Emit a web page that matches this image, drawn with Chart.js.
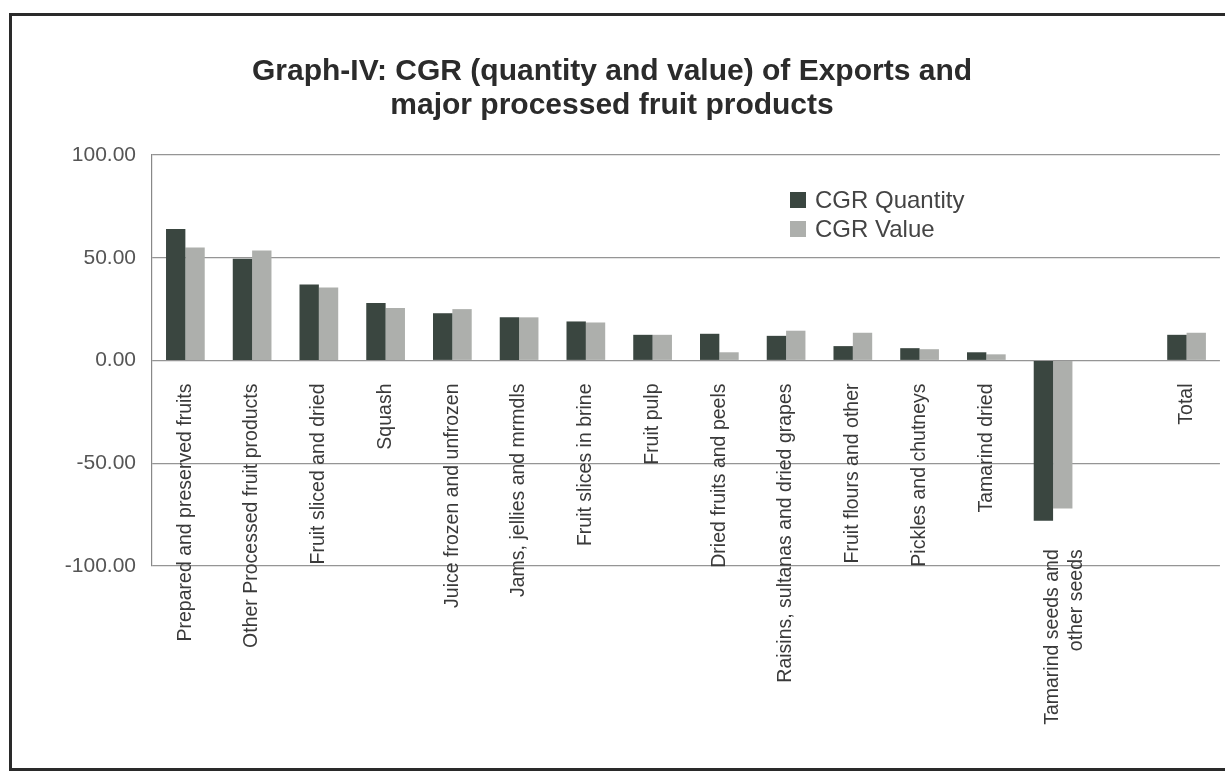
<!DOCTYPE html>
<html><head><meta charset="utf-8">
<script src="https://cdn.jsdelivr.net/npm/chart.js@4.4.0/dist/chart.umd.min.js"></script>
<style>
html,body{margin:0;padding:0;background:#fff;}
#wrap{position:relative;width:1225px;height:773px;overflow:hidden;}
#frame{position:absolute;left:9px;top:13px;width:1220px;height:752px;border-top:3px solid #2a2a2a;border-left:3px solid #2a2a2a;border-bottom:3px solid #2a2a2a;}
canvas{position:absolute;left:0;top:0;}
</style></head><body>
<div id="wrap"><div id="frame"></div><canvas id="c" width="1225" height="773"></canvas></div>
<script>
const titleLines = ['Graph-IV: CGR (quantity and value) of Exports and', 'major processed fruit products'];
const categories = [
  'Prepared and preserved fruits',
  'Other Processed fruit products',
  'Fruit sliced and dried',
  'Squash',
  'Juice frozen and unfrozen',
  'Jams, jellies and mrmdls',
  'Fruit slices in brine',
  'Fruit pulp',
  'Dried fruits and peels',
  'Raisins, sultanas and dried grapes',
  'Fruit flours and other',
  'Pickles and chutneys',
  'Tamarind dried',
  ['Tamarind seeds and', 'other seeds'],
  '',
  'Total'
];
const seriesNames = ['CGR Quantity', 'CGR Value'];
const cgrQuantity = [64, 49.5, 37, 28, 23, 21, 19, 12.5, 13, 12, 7, 6, 4, -78, null, 12.5];
const cgrValue    = [55, 53.5, 35.5, 25.5, 25, 21, 18.5, 12.5, 4, 14.5, 13.5, 5.5, 3, -72, null, 13.5];
const yMin = -100, yMax = 100, yStep = 50;
const lowLabelIndex = 13;      // category whose label sits below its negative bar
const lowLabelAt = -86;        // axis value where that label starts

function hasFont(name){
  const c = document.createElement('canvas').getContext('2d');
  const s = 'abcdefghijklmnopqrstuvwxyz WWW 0123';
  c.font = '20px monospace'; const a = c.measureText(s).width;
  c.font = '20px "' + name + '", monospace'; const b = c.measureText(s).width;
  return Math.abs(a - b) > 0.5;
}
const narrow = hasFont('Liberation Sans Narrow');
const condFam = narrow ? '"Liberation Sans Narrow", "Liberation Sans", Arial, sans-serif' : '"Liberation Sans", Arial, sans-serif';
const regFam = '"Liberation Sans", Arial, sans-serif';
const titleFont = narrow ? {family: condFam, size: 30, weight: 'bold', lineHeight: 1.15} : {family: regFam, size: 30, weight: 'bold', lineHeight: 1.15};
const xFont = narrow ? {family: condFam, size: 23} : {family: regFam, size: 19.5};

const colors = ['#3a4640', '#adafac'];

const legendPlugin = {
  id: 'insideLegend',
  afterDraw(chart){
    const ctx = chart.ctx;
    ctx.save();
    ctx.font = '24px ' + regFam;
    ctx.textBaseline = 'middle';
    ctx.textAlign = 'left';
    chart.data.datasets.forEach((ds, i) => {
      const cy = 200 + i * 29;
      ctx.fillStyle = ds.backgroundColor;
      ctx.fillRect(790, cy - 8, 16, 16);
      ctx.fillStyle = '#444';
      ctx.fillText(ds.label, 815, cy + 1);
    });
    ctx.restore();
  }
};

new Chart(document.getElementById('c'), {
  type: 'bar',
  data: {
    labels: categories,
    datasets: [
      {label: seriesNames[0], data: cgrQuantity, backgroundColor: colors[0], categoryPercentage: 0.58, barPercentage: 1},
      {label: seriesNames[1], data: cgrValue, backgroundColor: colors[1], categoryPercentage: 0.58, barPercentage: 1}
    ]
  },
  options: {
    responsive: false,
    animation: false,
    layout: {padding: {left: 0, right: 1, top: 0, bottom: 207}},
    plugins: {
      legend: {display: false},
      tooltip: {enabled: false},
      title: {display: true, text: titleLines, color: '#2b2b2b', font: titleFont, padding: {top: 54, bottom: 32}}
    },
    scales: {
      x: {
        type: 'category', axis: 'x', position: {y: 0},
        grid: {display: false}, border: {display: false},
        ticks: {autoSkip: false, minRotation: 90, maxRotation: 90, padding: 15, color: '#3a3a3a', font: xFont,
          callback: function(v, i){ return i === lowLabelIndex ? '' : this.getLabelForValue(v); }}
      },
      x2: {
        type: 'category', axis: 'x', position: {y: lowLabelAt},
        grid: {display: false}, border: {display: false},
        ticks: {autoSkip: false, minRotation: 90, maxRotation: 90, padding: 4, color: '#3a3a3a', font: xFont,
          callback: function(v, i){ return i === lowLabelIndex ? this.getLabelForValue(v) : ''; }}
      },
      y: {
        min: yMin, max: yMax,
        ticks: {stepSize: yStep, padding: 16, color: '#555', font: {family: regFam, size: 21},
          callback: v => Number(v).toFixed(2)},
        grid: {color: '#959595', lineWidth: 1.2, drawTicks: false},
        border: {display: true, color: '#888', width: 1.2},
        afterFit(s){ s.width = 152; }
      }
    }
  },
  plugins: [legendPlugin]
});
</script>
</body></html>
